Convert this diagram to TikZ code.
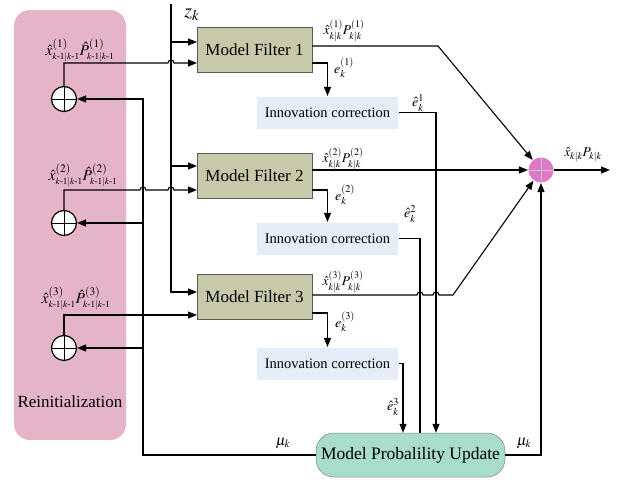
\documentclass[tikz,border=0pt]{standalone}
\usepackage{amsmath}
\usepackage{mathptmx}
\usepackage{fontspec}
\setmainfont{Liberation Serif}
\usetikzlibrary{arrows.meta}
\definecolor{pinkc}{RGB}{230,180,201}
\definecolor{filtc}{RGB}{200,200,170}
\definecolor{innc}{RGB}{228,237,248}
\definecolor{mpuc}{RGB}{168,220,205}
\definecolor{fusec}{RGB}{222,120,200}
\newcommand{\km}{{\scriptscriptstyle k\text{-}1|k\text{-}1}}
\begin{document}
\begin{tikzpicture}[x=1pt,y=-1pt, line width=1.1pt,
  arr/.style={-{Triangle[length=9pt,width=7pt]}},
  filt/.style={draw=gray!70!black, line width=0.5pt, fill=filtc, minimum width=115pt, minimum height=45pt, font=\fontsize{17}{20}\selectfont, inner sep=0pt},
  innov/.style={fill=innc, minimum width=141pt, minimum height=32pt, font=\fontsize{14.5}{17}\selectfont, inner sep=0pt},
  sumc/.style={circle, draw, line width=1.2pt, fill=white, minimum size=25pt, inner sep=0pt},
  lab/.style={font=\fontsize{13.5}{15}\selectfont, inner sep=0pt},
  rlab/.style={font=\fontsize{15.5}{17}\selectfont, inner sep=0pt}
]
\useasboundingbox (0,0) rectangle (623,479);
% Reinitialization block
\node[fill=pinkc, rounded corners=16pt, minimum width=112pt, minimum height=430pt, inner sep=0pt] (reinit) at (70,225) {};
\node[font=\fontsize{17}{20}\selectfont] (reinitlab) at (70,402) {Reinitialization};
% filters
\node[filt] (f1) at (254.5,50) {Model Filter 1};
\node[filt] (f2) at (254.5,176) {Model Filter 2};
\node[filt] (f3) at (254.5,296.5) {Model Filter 3};
% innovation corrections
\node[innov] (ic1) at (327.5,112.5) {Innovation correction};
\node[innov] (ic2) at (327.5,238.5) {Innovation correction};
\node[innov] (ic3) at (327.5,363.5) {Innovation correction};
% model probability update
\node[draw=gray, line width=0.5pt, fill=mpuc, rounded corners=18pt, minimum width=189pt, minimum height=44pt, inner sep=0pt, font=\fontsize{17.5}{20}\selectfont] (mpu) at (410.5,455) {Model Probalility Update};
% fusion circle
\node[circle, fill=fusec, minimum size=25pt, inner sep=0pt] (fuse) at (541,170) {};
\draw[gray!45, line width=0.4pt] (fuse.north) -- (fuse.south) (fuse.west) -- (fuse.east);
% sum circles
\node[sumc] (s1) at (64,99) {};
\node[sumc] (s2) at (64,223) {};
\node[sumc] (s3) at (64,348) {};
\foreach \s in {s1,s2,s3} {\draw[line width=1pt] (\s.north) -- (\s.south) (\s.west) -- (\s.east);}
% coordinates
\coordinate (ztop) at (171,4);
\coordinate (f1z) at (197,42);
\coordinate (f1s) at (197,63);
\coordinate (f2z) at (197,166);
\coordinate (f2s) at (197,190);
\coordinate (f3z) at (197,292);
\coordinate (f3s) at (197,315);
\coordinate (fbc) at (143,455);
\coordinate (outp) at (610,170);
% z_k line
\draw[arr] (ztop) |- (f3z);
\draw[arr] (171,42) -- (f1z);
\draw[arr] (171,166) -- (f2z);
% reinit to filters
\draw[arr] (s1.north) |- (168,63) arc[start angle=180,end angle=360,radius=3] -- (f1s);
\draw[arr] (s2.north) |- (140,190) arc[start angle=180,end angle=360,radius=3] -- (168,190) arc[start angle=180,end angle=360,radius=3] -- (f2s);
\draw[arr] (s3.north) |- (f3s);
% feedback
\draw[arr] (mpu.west) -- (fbc) |- (s1.east);
\draw[arr] (143,223) -- (s2.east);
\draw[arr] (143,348) -- (s3.east);
% filter outputs
\draw[arr] (f1.east |- 0,46) -- (438,46) -- (fuse);
\draw[arr] (f2.east |- 0,170) -- (fuse);
\draw[arr] (f3.east |- 0,295) -- (417,295) arc[start angle=180,end angle=360,radius=3] -- (433,295) arc[start angle=180,end angle=360,radius=3] -- (453,295) -- (fuse);
% innovation
\draw[arr] (f1.east |- 0,63) -| (ic1.north);
\draw[arr] (f2.east |- 0,190) -| (ic2.north);
\draw[arr] (f3.east |- 0,313) -| (ic3.north);
\draw[arr] (ic1.east) -| (mpu.north -| 436,0);
\draw (ic2.east) -| (mpu.north -| 420,0);
\draw[arr] (ic3.east) -| (mpu.north -| 403,0);
% mpu to fuse and output
\draw[arr] (mpu.east) -| (fuse.south);
\draw[arr] (fuse.east) -- (outp);
% labels
\node[font=\fontsize{20}{22}\selectfont, inner sep=0pt] (zl) at (192,15) {$z_k$};
\node[rlab] (l1) at (80,50) {$\hat{x}^{(1)}_{\km}\hat{P}^{(1)}_{\km}$};
\node[rlab] (l2) at (83,175) {$\hat{x}^{(2)}_{\km}\hat{P}^{(2)}_{\km}$};
\node[rlab] (l3) at (76,298) {$\hat{x}^{(3)}_{\km}\hat{P}^{(3)}_{\km}$};
\node[lab] (o1) at (344,31) {$\hat{x}^{(1)}_{k|k}P^{(1)}_{k|k}$};
\node[lab] (o2) at (343,159) {$\hat{x}^{(2)}_{k|k}P^{(2)}_{k|k}$};
\node[lab] (o3) at (343,282) {$\hat{x}^{(3)}_{k|k}P^{(3)}_{k|k}$};
\node[lab, font=\fontsize{14}{16}\selectfont] (e1) at (344,68) {$e^{(1)}_k$};
\node[lab, font=\fontsize{14}{16}\selectfont] (e2) at (345,195) {$e^{(2)}_k$};
\node[lab, font=\fontsize{14}{16}\selectfont] (e3) at (345,322) {$e^{(3)}_k$};
\node[lab, font=\fontsize{14}{16}\selectfont] (h1) at (418,103) {$\hat{e}^{1}_k$};
\node[lab, font=\fontsize{14}{16}\selectfont] (h2) at (410,214) {$\hat{e}^{2}_k$};
\node[lab, font=\fontsize{14}{16}\selectfont] (h3) at (393,407) {$\hat{e}^{3}_k$};
\node[lab, font=\fontsize{15}{17}\selectfont] (m1) at (283,443) {$\mu_k$};
\node[lab, font=\fontsize{15}{17}\selectfont] (m2) at (524,443) {$\mu_k$};
\node[lab] (xo) at (583,155) {$\hat{x}_{k|k}P_{k|k}$};
\end{tikzpicture}
\end{document}
